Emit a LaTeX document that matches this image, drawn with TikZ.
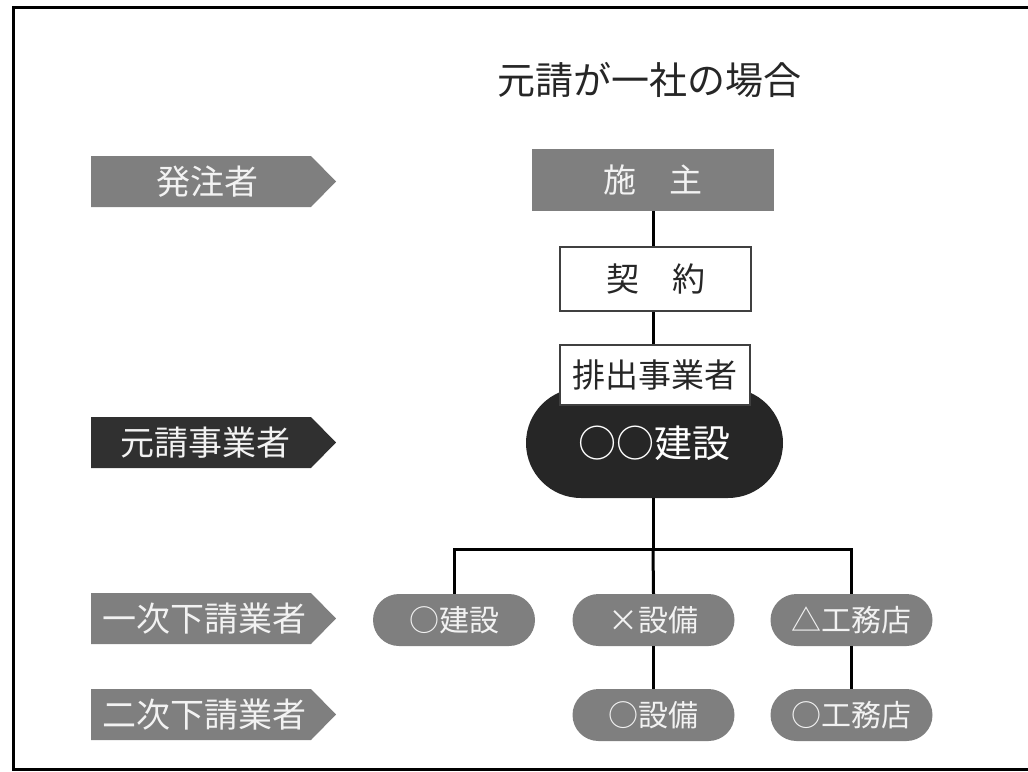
\documentclass[tikz,border=0pt]{standalone}
\usepackage{fontspec}
\setmainfont{Noto Sans CJK JP}
\definecolor{midgray}{HTML}{7F7F7F}
\definecolor{darkfill}{HTML}{303030}
\definecolor{pillblack}{HTML}{262626}
\definecolor{lighttext}{HTML}{F2F2F2}
\definecolor{inktext}{HTML}{262626}
\tikzset{
  conn/.style={line width=3pt, black},
  graybox/.style={rectangle, fill=midgray, text=lighttext, inner sep=0pt, font=\fontsize{33}{38}\selectfont},
  whitebox/.style={rectangle, draw=black!75, line width=1.5pt, fill=white, text=inktext, inner sep=0pt, font=\fontsize{33}{38}\selectfont},
  pill/.style={rectangle, rounded corners=26pt, fill=midgray, text=lighttext, minimum width=162pt, minimum height=52pt, inner sep=0pt, font=\fontsize{30}{34}\selectfont},
  labtext/.style={text=lighttext, inner sep=0pt, font=\fontsize{34}{38}\selectfont},
}
\newcommand{\labarrow}[5]{% name, y, fill, text, text x
  \fill[#3] (91,#2-25.5) -- (311,#2-25.5) -- (336,#2) -- (311,#2+25.5) -- (91,#2+25.5) -- cycle;
  \node[labtext] (#1) at (#5,#2) {#4};
}
\begin{document}
\begin{tikzpicture}[x=1pt,y=-1pt]
\useasboundingbox (0,0) rectangle (1028,771);
% frame
\draw[line width=3pt] (1032,7) -- (13,7) -- (13,769) -- (1032,769);
% title
\node[text=inktext, font=\fontsize{38}{44}\selectfont, inner sep=0pt] (title) at (649,80) {元請が一社の場合};
% left labels
\labarrow{l1}{181.5}{midgray}{発注者}{207}
\labarrow{l2}{442.5}{darkfill}{元請事業者}{205}
\labarrow{l3}{618.5}{midgray}{一次下請業者}{204}
\labarrow{l4}{714.5}{midgray}{二次下請業者}{204}
% main chain
\node[graybox, minimum width=242pt, minimum height=62pt] (seshu) at (653,180) {施　主};
\node[whitebox, minimum width=191pt, minimum height=64pt] (keiyaku) at (655.5,279) {契　約};
\node[rectangle, rounded corners=55pt, fill=pillblack, text=white, minimum width=257pt, minimum height=110pt, inner sep=0pt, font=\fontsize{38}{44}\selectfont] (moto) at (654.5,443) {\raisebox{-2pt}{○○建設}};
\node[whitebox, minimum width=190pt, minimum height=60pt] (haishutsu) at (655,375) {排出事業者};
% subcontractors
\node[pill] (p1) at (454,620) {○建設};
\node[pill] (p2) at (653.5,620) {×設備};
\node[pill] (p3) at (851.5,620) {△工務店};
\node[pill] (q2) at (653.5,715) {○設備};
\node[pill] (q3) at (851.5,715) {○工務店};
\coordinate (bus) at (653,549);
% connectors
\draw[conn] (seshu.south -| 653,0) -- (keiyaku.north -| 653,0);
\draw[conn] (keiyaku.south -| 653,0) -- (haishutsu.north -| 653,0);
\draw[conn] (moto.south -| 653,0) -- (bus);
\draw[conn] (p1.north) |- (bus) -| (p3.north);
\draw[conn] (bus) -- (p2.north);
\draw[conn] (p2.south) -- (q2.north);
\draw[conn] (p3.south) -- (q3.north);
\end{tikzpicture}
\end{document}
